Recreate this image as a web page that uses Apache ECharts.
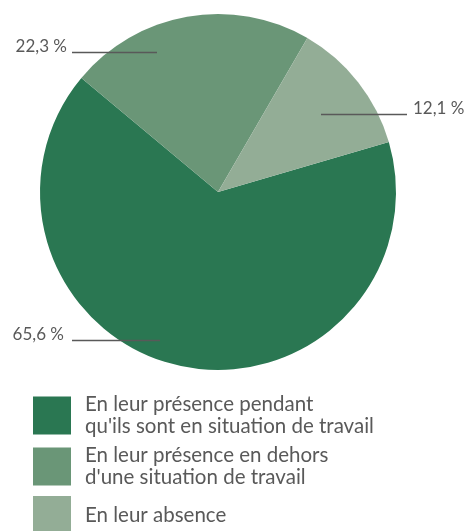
<!DOCTYPE html>
<html>
<head>
<meta charset="utf-8">
<script src="https://cdn.jsdelivr.net/npm/echarts@6/dist/echarts.min.js"></script>
<style>
  html, body { margin: 0; padding: 0; background: #ffffff; }
  #chart { width: 468px; height: 531px; }
</style>
</head>
<body>
<div id="chart"></div>
<script>
// Répartition des situations (en %)
const categories = [
  "En leur présence pendant\nqu'ils sont en situation de travail",
  "En leur présence en dehors\nd'une situation de travail",
  "En leur absence"
];
const values = [65.6, 22.3, 12.1];
const valueLabels = ["65,6 %", "22,3 %", "12,1 %"];
const colors = ["#2a7752", "#6a9677", "#93ad96"];

// Label anchor spots (text end + leader line) for each slice
const labelSpots = [
  { x: 64, y: 343, align: "right", line: [[160, 340.5], [116, 340.5], [72, 340.5]] },
  { x: 67, y: 55, align: "right", line: [[157, 52.5], [115, 52.5], [72, 52.5]] },
  { x: 413, y: 117, align: "left", line: [[321, 114.5], [364, 114.5], [407, 114.5]] }
];

const FONT = "Lato, 'Open Sans', sans-serif";
const chart = echarts.init(document.getElementById("chart"), null, { renderer: "canvas" });

const pieBase = {
  type: "pie",
  center: [218, 192],
  radius: [0, 178],
  startAngle: 16.3,
  clockwise: true,
  avoidLabelOverlap: false,
  emphasis: { disabled: true },
  silent: true
};

chart.setOption({
  animation: false,
  legend: {
    orient: "vertical",
    left: 33,
    top: 394,
    height: 300,
    padding: 0,
    itemWidth: 38,
    itemHeight: 38,
    itemGap: 8,
    icon: "rect",
    selectedMode: false,
    textStyle: {
      fontFamily: FONT,
      fontSize: 20.5,
      color: "#595959",
      lineHeight: 21.5,
      padding: [0, 0, 0, 9]
    },
    data: categories.map((c, i) => ({ name: c, itemStyle: { color: colors[i] } }))
  },
  series: [
    // coloured slices
    Object.assign({}, pieBase, {
      z: 2,
      label: { show: false },
      labelLine: { show: false },
      itemStyle: { borderWidth: 0 },
      data: categories.map((c, i) => ({ name: c, value: values[i], itemStyle: { color: colors[i] } }))
    }),
    // value labels with leader lines drawn above the slices
    Object.assign({}, pieBase, {
      z: 3,
      itemStyle: { color: "transparent", borderWidth: 0 },
      label: {
        show: true,
        position: "outside",
        fontFamily: FONT,
        fontSize: 17,
        color: "#595959",
        formatter: p => valueLabels[p.dataIndex]
      },
      labelLine: {
        show: true,
        lineStyle: { color: "#595959", width: 1.5 }
      },
      labelLayout: p => {
        const s = labelSpots[p.dataIndex];
        return {
          x: s.x,
          y: s.y,
          align: s.align,
          verticalAlign: "bottom",
          labelLinePoints: s.line
        };
      },
      data: categories.map((c, i) => ({ name: c, value: values[i] }))
    })
  ]
});
</script>
</body>
</html>
